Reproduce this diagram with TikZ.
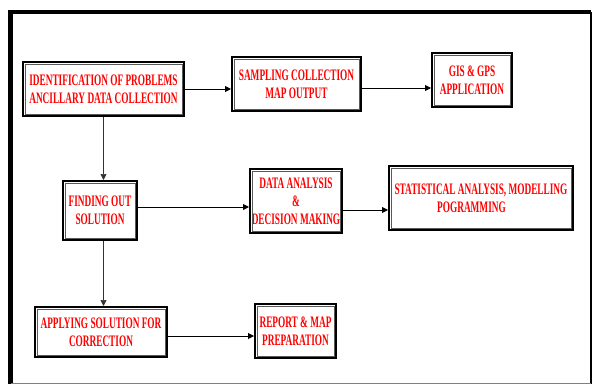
\documentclass[tikz,border=0pt]{standalone}
\usepackage{fontspec}
\usepackage{tikz}
\usetikzlibrary{positioning, arrows.meta, calc}
\newfontfamily\boxfont[FakeStretch=0.58]{Liberation Serif}
\tikzset{
  flowbox/.style={
    draw, line width=2pt, fill=white,
    text=red, align=center, inner sep=0pt,
    font=\boxfont\bfseries\fontsize{16}{18}\selectfont
  },
  innerline/.style={draw=gray!70!black, line width=0.8pt},
  signal/.style={-{Triangle[length=6pt, width=6pt]}, line width=0.9pt, black}
}

\begin{document}
\begin{tikzpicture}[x=1pt, y=-1pt]
\useasboundingbox (0,0) rectangle (593,385);

% Outer frame
\draw[line width=4.5pt] (10.5,384) -- (10.5,12) -- (591,12);
\draw[line width=1.5pt] (591,12) -- (591,384);
\draw[gray, line width=1pt] (10.5,383.5) -- (591,383.5);

% Boxes
\node[flowbox, minimum width=161pt, minimum height=54pt] (ident) at (103.5, 89) {IDENTIFICATION OF PROBLEMS\\ANCILLARY DATA COLLECTION};
\node[flowbox, minimum width=129pt, minimum height=54pt] (sampling) at (296.5, 84) {SAMPLING COLLECTION\\MAP OUTPUT};
\node[flowbox, minimum width=80pt, minimum height=54pt] (gis) at (472, 80) {GIS \& GPS\\APPLICATION};
\node[flowbox, minimum width=74pt, minimum height=59pt] (finding) at (100, 210.5) {FINDING OUT\\SOLUTION};
\node[flowbox, minimum width=92pt, minimum height=64pt] (analysis) at (296, 201) {DATA ANALYSIS\\\&\\DECISION MAKING};
\node[flowbox, minimum width=184pt, minimum height=64pt] (stats) at (481, 198) {STATISTICAL ANALYSIS, MODELLING\\POGRAMMING\hspace*{19pt}};
\node[flowbox, minimum width=132pt, minimum height=50pt] (applying) at (101, 332) {APPLYING SOLUTION FOR\\CORRECTION};
\node[flowbox, minimum width=81pt, minimum height=54pt] (report) at (295.5, 331) {REPORT \& MAP\\PREPARATION};

% Inner lines of the double borders
\foreach \b in {ident, sampling, gis, finding, analysis, stats, applying, report}
  \draw[innerline] ([shift={(3pt,-3pt)}]\b.north west) rectangle ([shift={(-3pt,3pt)}]\b.south east);

% Top row
\draw[signal] (ident.east) -- (ident.east -| sampling.west);
\draw[signal] (sampling.east |- {0, 88}) -- (gis.west |- {0, 88});

% Middle row
\draw[signal] (finding.east |- {0, 207}) -- (analysis.west |- {0, 207});
\draw[signal] (analysis.east |- {0, 210}) -- (stats.west |- {0, 210});

% Bottom row
\draw[signal] (applying.east |- {0, 336}) -- (report.west |- {0, 336});

% Vertical links
\draw[signal, gray!40!black, line width=0.7pt] (ident.south) -- (ident.south |- finding.north);
\draw[signal, gray!40!black, line width=0.7pt] (ident.south |- finding.south) -- (ident.south |- applying.north);

\end{tikzpicture}
\end{document}
